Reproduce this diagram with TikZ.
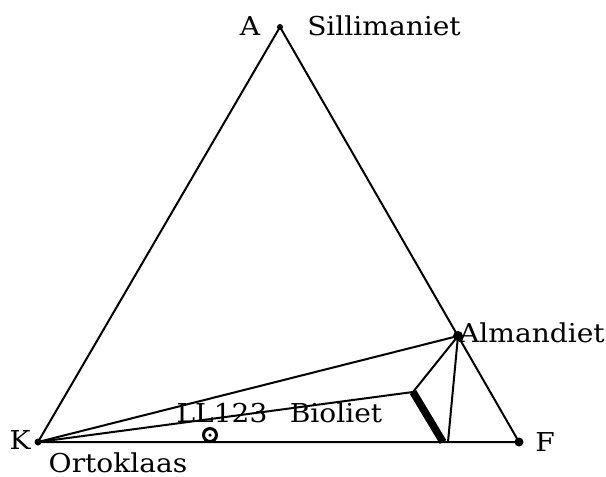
\documentclass[tikz,border=0pt]{standalone}
\usepackage{fontspec}
\setmainfont{DejaVu Serif}[FakeStretch=1.08]
\usetikzlibrary{positioning}
\tikzset{
  every picture/.style={line width=2pt},
  lbl/.style={font=\fontsize{26}{30}\selectfont, inner sep=0pt, anchor=base},
  pt/.style={circle, fill=black, inner sep=0pt, minimum size=#1},
  pt/.default=8pt,
  edge/.style={draw=black, line width=2pt},
}
\begin{document}
\begin{tikzpicture}[x=1pt, y=-1pt]
  \useasboundingbox (0,0) rectangle (606,477);
  % corners and phases
  \node[pt=6pt] (A) at (280,27) {};
  \node[pt=7pt] (K) at (38,442) {};
  \node[pt=9pt] (F) at (519,442) {};
  \node[pt=10pt] (alm) at (458,336) {};
  \coordinate (btop) at (413,392);
  \coordinate (bbot) at (443,442);
  \coordinate (abot) at (448,442);
  % triangle
  \draw[edge] (A.center) -- (K.center) -- (F.center) -- cycle;
  % tie lines
  \draw[edge] (K.center) -- (alm.center);
  \draw[edge] (K.center) -- (btop);
  \foreach \t in {btop, abot} \draw[edge] (alm.center) -- (\t);
  \draw[line width=7.5pt] (btop) -- (bbot);
  % sample
  \node[circle, draw, line width=3pt, minimum size=13pt, inner sep=0pt] (smp) at (210,435) {};
  \node[pt=3.5pt] at (smp.center) {};
  % labels
  \node[lbl] (lA) at (250,35) {A};
  \node[lbl] (lSil) at (384,35) {Sillimaniet};
  \node[lbl] (lK) at (20,449) {K};
  \node[lbl] (lOrt) at (118,472) {Ortoklaas};
  \node[lbl] (lF) at (545,451) {F};
  \node[lbl] (lAlm) at (532,342) {Almandiet};
  \node[lbl] (lLL) at (222,422) {LL123};
  \node[lbl] (lBio) at (336,422) {Bioliet};
\end{tikzpicture}
\end{document}
